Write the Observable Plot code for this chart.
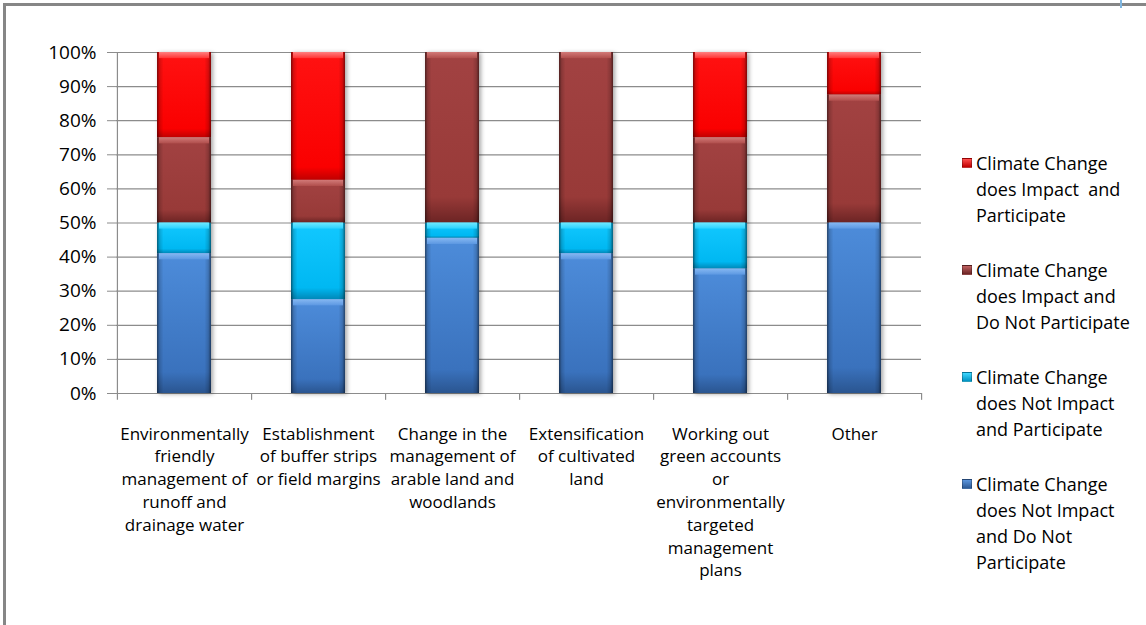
<!DOCTYPE html>
<html>
<head>
<meta charset="utf-8">
<script src="https://cdn.jsdelivr.net/npm/d3@7"></script>
<script src="https://cdn.jsdelivr.net/npm/@observablehq/plot@0.6"></script>
<style>
  body { margin: 0; background: #fff; }
  #wrap { position: relative; width: 1146px; height: 625px; overflow: hidden; font-family: "Open Sans", sans-serif; background: #fff; }
  #chart { position: absolute; left: 0; top: 0; }
  .frame-top { position: absolute; left: 3px; top: 3px; width: 1143px; height: 3px; background: #868686; }
  .frame-left { position: absolute; left: 3px; top: 3px; width: 3px; height: 622px; background: #868686; }
  .corner-mark { position: absolute; left: 1120px; top: 0; width: 2px; height: 8px; background: #7fb6e0; }
  .legend-item { position: absolute; left: 962px; font-size: 18px; line-height: 26px; color: #000; white-space: nowrap; }
  .legend-item .sw { position: absolute; left: 0; top: 8px; width: 10px; height: 10px; box-sizing: border-box; }
  .legend-item .tx { position: absolute; left: 14px; top: 0; }
</style>
</head>
<body>
<div id="wrap">
  <div class="frame-top"></div>
  <div class="frame-left"></div>
  <div class="corner-mark"></div>
  <div id="chart"></div>
</div>
<script>
// ---- data ----
const categories = [
  "Environmentally friendly management of runoff and drainage water",
  "Establishment of buffer strips or field margins",
  "Change in the management of arable land and woodlands",
  "Extensification of cultivated land",
  "Working out green accounts or environmentally targeted management plans",
  "Other"
];
const tickLabels = [
  "Environmentally\nfriendly\nmanagement of\nrunoff and\ndrainage water",
  "Establishment\nof buffer strips\nor field margins",
  "Change in the\nmanagement of\narable land and\nwoodlands",
  "Extensification\nof cultivated\nland",
  "Working out\ngreen accounts\nor\nenvironmentally\ntargeted\nmanagement\nplans",
  "Other"
];
// stacked bottom to top
const seriesNames = [
  "Climate Change does Not Impact and Do Not Participate",
  "Climate Change does Not Impact and Participate",
  "Climate Change does Impact and Do Not Participate",
  "Climate Change does Impact  and Participate"
];
const notImpactNotParticipate = [0.41, 0.275, 0.455, 0.41, 0.365, 0.50];
const notImpactParticipate    = [0.09, 0.225, 0.045, 0.09, 0.135, 0.00];
const impactNotParticipate    = [0.25, 0.125, 0.50, 0.50, 0.25, 0.375];
const impactParticipate       = [0.25, 0.375, 0.00, 0.00, 0.25, 0.125];
const yTicks = [0, 0.1, 0.2, 0.3, 0.4, 0.5, 0.6, 0.7, 0.8, 0.9, 1.0];
// legend order (top to bottom) and its line breaks
const legendOrder = [3, 2, 1, 0];
const legendLines = [
  ["Climate Change", "does Not Impact", "and Do Not", "Participate"],
  ["Climate Change", "does Not Impact", "and Participate"],
  ["Climate Change", "does Impact and", "Do Not Participate"],
  ["Climate Change", "does Impact\u00a0 and", "Participate"]
];

// ---- styles ----
const baseStops = [
  [["0", "#4d8cda"], ["0.85", "#3a72bd"], ["1", "#2a5590"]],
  [["0", "#12c8ff"], ["0.85", "#00b8f2"], ["1", "#0088b8"]],
  [["0", "#a24242"], ["0.85", "#983a38"], ["1", "#6c2424"]],
  [["0", "#ff1212"], ["0.9", "#fa0000"], ["1", "#c00000"]]
];
const hiStops = [
  [["0", "#86b8f2"], ["1", "#5c98e2"]],
  [["0", "#70e8ff"], ["1", "#2ad2ff"]],
  [["0", "#d27a78"], ["1", "#b04e4c"]],
  [["0", "#ff8080"], ["1", "#ff3434"]]
];
const swatchCss = [
  "linear-gradient(#5c96de,#2d5a96)",
  "linear-gradient(#40d8ff,#0094c4)",
  "linear-gradient(#c06060,#6c2424)",
  "linear-gradient(#ff5050,#c00000)"
];

const seriesValues = [notImpactNotParticipate, notImpactParticipate, impactNotParticipate, impactParticipate];
const rows = [];
categories.forEach((c, i) => {
  let acc = 0;
  seriesValues.forEach((vals, s) => {
    const v = vals[i];
    rows.push({category: c, series: seriesNames[s], s, value: v, y1: acc, y2: acc + v});
    acc += v;
  });
});

const W = 1146, H = 625, ML = 116, MR = 225, MT = 52, MB = 232;
const step = (W - ML - MR) / categories.length;
const gray = "#8c8c8c";

const hiMarks = seriesNames.map((name, s) =>
  Plot.barY(rows.filter(d => d.s === s && d.value > 0.02), {
    x: "category", y1: d => d.y2 - 0.018, y2: "y2",
    fill: `url(#h${s})`, insetLeft: 2, insetRight: 2
  })
);

const chart = Plot.plot({
  width: W, height: H,
  marginLeft: ML, marginRight: MR, marginTop: MT, marginBottom: MB,
  style: {fontFamily: "'Open Sans', sans-serif", background: "transparent", color: "#000"},
  x: {domain: categories, paddingInner: 0.6, paddingOuter: 0.3, axis: null},
  y: {domain: [0, 1], axis: null},
  color: {type: "ordinal", domain: seriesNames, range: seriesNames.map((_, s) => `url(#g${s})`)},
  marks: [
    Plot.gridY(yTicks, {stroke: gray, strokeOpacity: 1, strokeWidth: 1.2}),
    Plot.axisY({ticks: yTicks, tickFormat: d3.format(".0%"), tickSize: 9, tickPadding: 11, fontSize: 19, stroke: gray, label: null}),
    Plot.ruleX([categories[0]], {dx: -step / 2, y1: -0.02, y2: 1, stroke: gray, strokeWidth: 1.2}),
    Plot.ruleX(categories, {dx: step / 2, y1: -0.02, y2: 0, stroke: gray, strokeWidth: 1.2}),
    Plot.ruleY([0], {stroke: gray, strokeWidth: 1.2}),
    Plot.axisX({tickSize: 0, tickPadding: 30, fontSize: 17, lineHeight: 1.34, label: null,
      tickFormat: d => tickLabels[categories.indexOf(d)]}),
    Plot.barY(rows.filter(d => d.value > 0), {x: "category", y1: "y1", y2: "y2", fill: "series"}),
    Plot.barY(rows.filter(d => d.value > 0), {x: "category", y1: "y1", y2: "y2", fill: "url(#edge)"}),
    ...hiMarks
  ]
});

// gradient definitions
const svg = d3.select(chart);
const defs = svg.insert("defs", ":first-child");
baseStops.forEach((stops, s) => {
  const g = defs.append("linearGradient").attr("id", `g${s}`).attr("x1", 0).attr("y1", 0).attr("x2", 0).attr("y2", 1);
  stops.forEach(([o, c]) => g.append("stop").attr("offset", o).attr("stop-color", c));
});
hiStops.forEach((stops, s) => {
  const g = defs.append("linearGradient").attr("id", `h${s}`).attr("x1", 0).attr("y1", 0).attr("x2", 0).attr("y2", 1);
  stops.forEach(([o, c]) => g.append("stop").attr("offset", o).attr("stop-color", c));
});
const edge = defs.append("linearGradient").attr("id", "edge").attr("x1", 0).attr("y1", 0).attr("x2", 1).attr("y2", 0);
[["0", 0.5], ["0.05", 0.15], ["0.12", 0], ["0.88", 0], ["0.95", 0.15], ["1", 0.5]].forEach(([o, a]) =>
  edge.append("stop").attr("offset", o).attr("stop-color", "#000").attr("stop-opacity", a));
// soft drop shadow on the bars
const barGroups = svg.selectAll("g[aria-label='bar']").nodes();
if (barGroups.length) barGroups[0].style.filter = "drop-shadow(2px 1px 2px rgba(0,0,0,0.35))";

document.getElementById("chart").appendChild(chart);

// legend
const wrap = document.getElementById("wrap");
const itemTops = [150, 257, 364, 471];
legendOrder.forEach((s, k) => {
  const item = document.createElement("div");
  item.className = "legend-item";
  item.style.top = itemTops[k] + "px";
  const sw = document.createElement("div");
  sw.className = "sw";
  sw.style.background = swatchCss[s];
  sw.style.border = "1px solid rgba(0,0,0,0.25)";
  const tx = document.createElement("div");
  tx.className = "tx";
  tx.innerHTML = legendLines[s].join("<br>");
  item.appendChild(sw);
  item.appendChild(tx);
  wrap.appendChild(item);
});
</script>
</body>
</html>
